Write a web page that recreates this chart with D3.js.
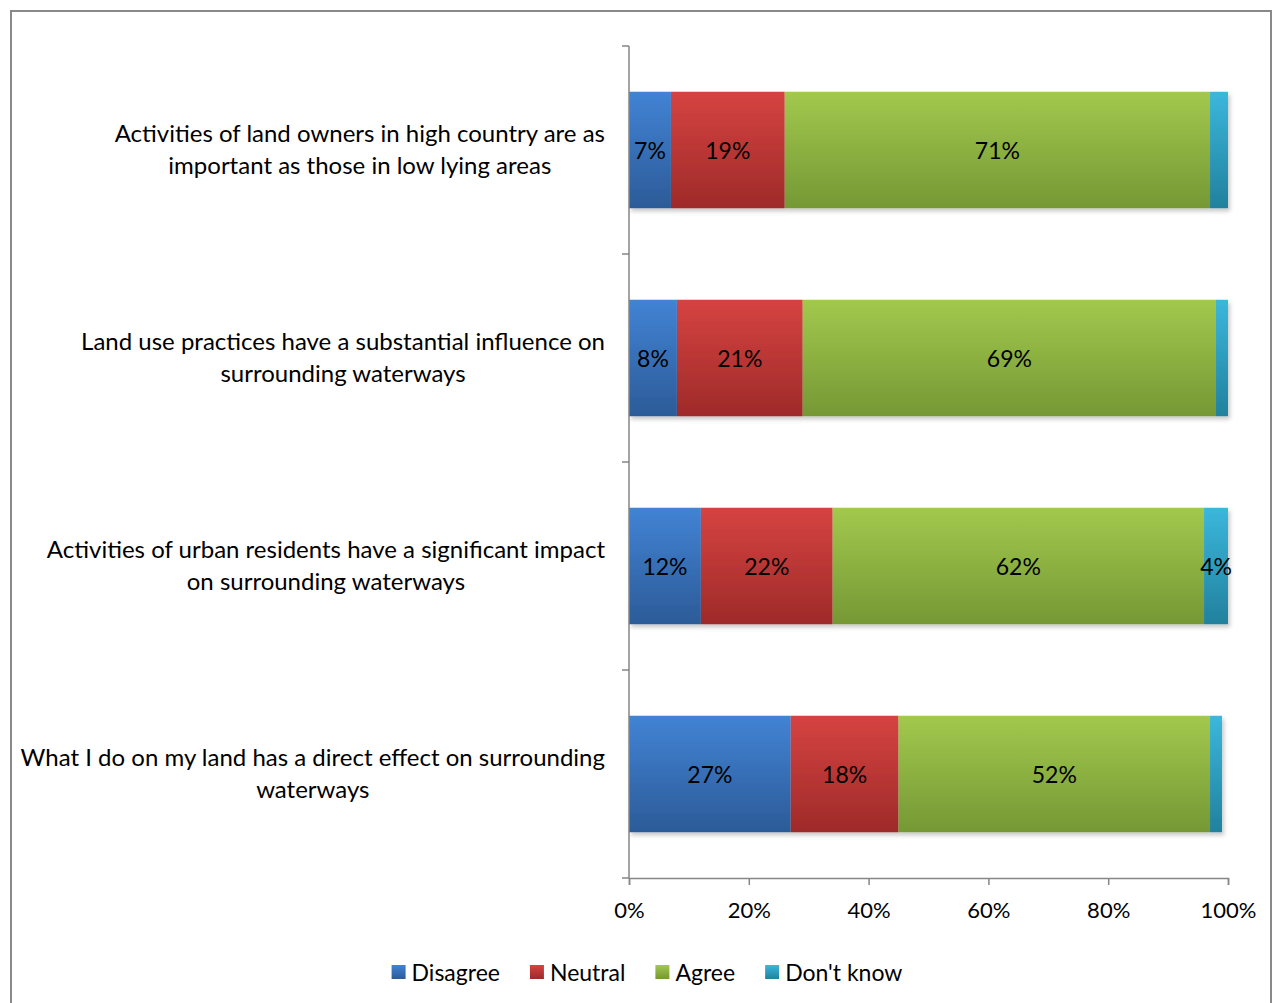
<!DOCTYPE html>
<html>
<head>
<meta charset="utf-8">
<script src="https://d3js.org/d3.v7.min.js"></script>
<style>
  html, body { margin: 0; padding: 0; background: #fff; }
  svg { display: block; }
  text { font-family: Lato, "Open Sans", sans-serif; fill: #000; }
</style>
</head>
<body>
<svg id="chart" width="1273" height="1003"></svg>
<script>
// Survey statements, top to bottom
const categories = [
  ["Activities of land owners in high country are as", "important as those in low lying areas"],
  ["Land use practices have a substantial influence on", "surrounding waterways"],
  ["Activities of urban residents have a significant impact", "on surrounding waterways"],
  ["What I do on my land has a direct effect on surrounding", "waterways"]
];
const seriesNames = ["Disagree", "Neutral", "Agree", "Don't know"];
const disagree = [7, 8, 12, 27];
const neutral  = [19, 21, 22, 18];
const agree    = [71, 69, 62, 52];
const dontKnow = [3, 2, 4, 2];
// Segments too thin to carry a readable label
const showLabel = [
  [true, true, true, false],
  [true, true, true, false],
  [true, true, true, true],
  [true, true, true, false]
];
const xTicks = [0, 20, 40, 60, 80, 100];

const colors = [
  { top: "#4283d4", bottom: "#2c5b98" },
  { top: "#d64341", bottom: "#9e2a29" },
  { top: "#a2c94d", bottom: "#759835" },
  { top: "#3bb7dc", bottom: "#21819d" }
];

const svg = d3.select("#chart");
const defs = svg.append("defs");
colors.forEach((c, i) => {
  const g = defs.append("linearGradient").attr("id", "grad" + i)
    .attr("x1", 0).attr("y1", 0).attr("x2", 0).attr("y2", 1);
  g.append("stop").attr("offset", "0%").attr("stop-color", c.top);
  g.append("stop").attr("offset", "100%").attr("stop-color", c.bottom);
});
const shadow = defs.append("filter").attr("id", "shadow")
  .attr("x", "-5%").attr("y", "-5%").attr("width", "115%").attr("height", "120%");
shadow.append("feDropShadow").attr("dx", 2).attr("dy", 3).attr("stdDeviation", 2)
  .attr("flood-color", "#000").attr("flood-opacity", 0.22);

// Outer frame
svg.append("rect").attr("x", 11).attr("y", 11).attr("width", 1260).attr("height", 1000)
  .attr("fill", "none").attr("stroke", "#898989").attr("stroke-width", 2);

const plot = { left: 629, right: 1228, top: 46, bottom: 878 };

const x = d3.scaleLinear().domain([0, 100]).range([plot.left, plot.right]);
const y = d3.scaleBand().domain(d3.range(categories.length))
  .range([plot.top, plot.bottom]).paddingInner(0.44).paddingOuter(0.22);

const rows = categories.map((c, i) => [disagree[i], neutral[i], agree[i], dontKnow[i]]);

// Bars
rows.forEach((vals, i) => {
  let acc = 0;
  const g = svg.append("g").attr("filter", "url(#shadow)");
  vals.forEach((v, s) => {
    const x0 = x(acc), x1 = x(acc + v);
    g.append("rect")
      .attr("x", x0).attr("y", y(i))
      .attr("width", x1 - x0).attr("height", y.bandwidth())
      .attr("fill", `url(#grad${s})`);
    acc += v;
  });
});

// Value labels
rows.forEach((vals, i) => {
  let acc = 0;
  vals.forEach((v, s) => {
    if (showLabel[i][s]) {
      svg.append("text")
        .attr("x", x(acc + v / 2)).attr("y", y(i) + y.bandwidth() / 2)
        .attr("text-anchor", "middle").attr("dominant-baseline", "central")
        .attr("font-size", 23).text(v + "%");
    }
    acc += v;
  });
});

// Axes
const axisColor = "#868686";
const yTickPos = d3.range(categories.length + 1).map(k => plot.top + k * (plot.bottom - plot.top) / categories.length);
svg.append("line").attr("x1", plot.left).attr("x2", plot.left)
  .attr("y1", plot.top).attr("y2", plot.bottom).attr("stroke", axisColor).attr("stroke-width", 1.5);
yTickPos.forEach(p => {
  svg.append("line").attr("x1", plot.left - 7).attr("x2", plot.left)
    .attr("y1", p).attr("y2", p).attr("stroke", axisColor).attr("stroke-width", 1.5);
});

const xAxis = d3.axisBottom(x).tickValues(xTicks).tickFormat(d => d + "%")
  .tickSize(7).tickPadding(17);
const xg = svg.append("g").attr("transform", `translate(0,${plot.bottom})`).call(xAxis);
xg.select(".domain").attr("stroke", axisColor).attr("stroke-width", 1.5);
xg.selectAll(".tick line").attr("stroke", axisColor).attr("stroke-width", 1.5);
xg.selectAll(".tick text").attr("font-family", "Lato, 'Open Sans', sans-serif")
  .attr("font-size", 22).attr("fill", "#000");

// Category labels: centred lines inside a block whose right edge sits left of the axis
const labelRight = 605;
categories.forEach((lines, i) => {
  const g = svg.append("g");
  const texts = lines.map((ln, k) => g.append("text")
    .attr("font-size", 24).attr("text-anchor", "middle")
    .attr("dominant-baseline", "central").text(ln));
  const maxW = d3.max(texts, t => t.node().getComputedTextLength());
  const cx = labelRight - maxW / 2;
  const cy = y(i) + y.bandwidth() / 2 - 2;
  const lh = 32;
  texts.forEach((t, k) => {
    t.attr("x", cx).attr("y", cy + (k - (lines.length - 1) / 2) * lh);
  });
});

// Legend
const legendY = 972;
const legend = svg.append("g");
let lx = 0;
seriesNames.forEach((name, s) => {
  const g = legend.append("g").attr("transform", `translate(${lx},0)`);
  g.append("rect").attr("x", 0).attr("y", -7).attr("width", 14).attr("height", 14)
    .attr("fill", `url(#grad${s})`);
  const t = g.append("text").attr("x", 20).attr("y", 0)
    .attr("dominant-baseline", "central").attr("font-size", 23).text(name);
  const w = 20 + t.node().getComputedTextLength();
  lx += w + 30;
});
const totalW = lx - 30;
legend.attr("transform", `translate(${(389 + 905) / 2 - totalW / 2},${legendY})`);
</script>
</body>
</html>
